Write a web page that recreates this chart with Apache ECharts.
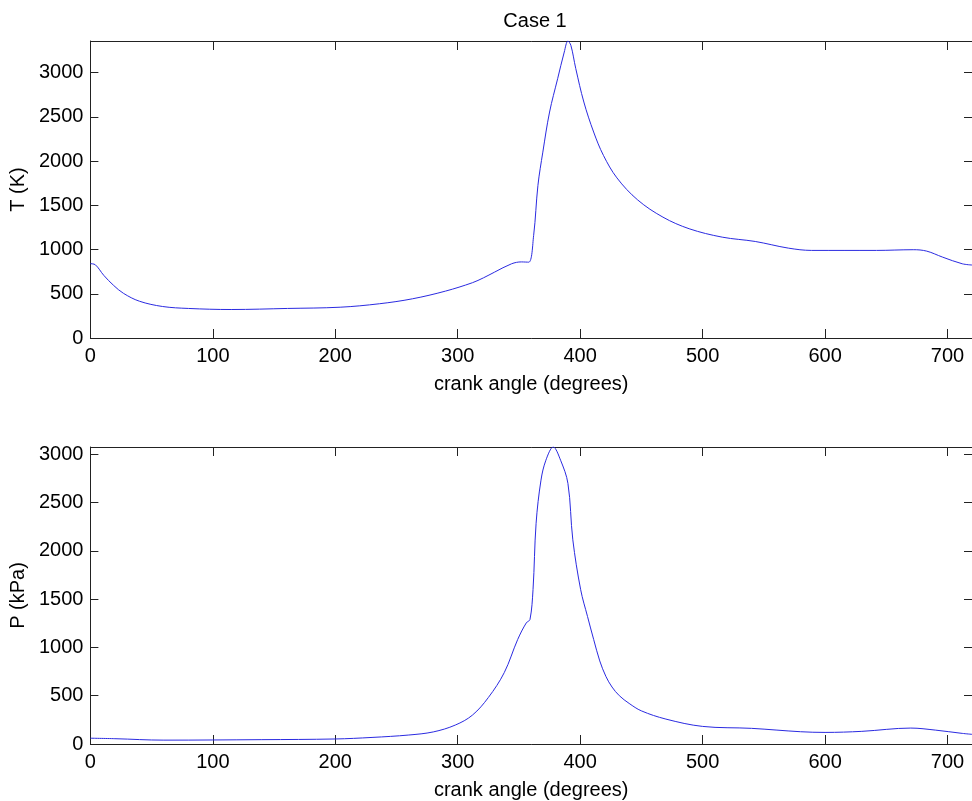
<!DOCTYPE html>
<html>
<head>
<meta charset="utf-8">
<script src="https://cdn.jsdelivr.net/npm/echarts@6/dist/echarts.min.js"></script>
<style>
html,body{margin:0;padding:0;background:#fff;}
#chart{width:972px;height:801px;}
</style>
</head>
<body>
<div id="chart"></div>
<script>
// Temperature vs crank angle
var tAngle = [0, 4, 11, 19, 27, 40, 59, 80, 115, 161, 204, 236, 263, 290, 312, 321, 330, 344, 352, 358, 362, 365.5, 369.5, 375, 381.6, 387, 390, 392.4, 396.4, 403, 411, 419, 430, 447, 467.6, 489, 516, 543, 570, 589, 642, 672, 683, 696, 712, 720];
var tValue = [840, 828, 707, 594, 505, 416, 356, 334, 322, 334, 348, 387, 443, 530, 625, 680, 744, 839, 860, 857, 1160, 1725, 2101, 2554, 2931, 3232, 3357, 3308, 3045, 2667, 2328, 2064, 1810, 1560, 1366, 1235, 1140, 1091, 1016, 990, 990, 998, 982, 914, 839, 825];
// Pressure vs crank angle
var pAngle = [0, 20, 60, 140, 200, 230, 260, 280, 298, 312, 325, 338, 349, 356, 359, 361.5, 364, 368, 372, 378, 384, 390, 394, 400.4, 406, 411, 416, 421, 426, 432, 440, 450, 470, 500, 540, 580, 600, 630, 670, 690, 712, 720];
var pValue = [60, 55, 40, 45, 52, 68, 93, 125, 196, 299, 481, 739, 1083, 1254, 1289, 1600, 2285, 2732, 2938, 3075, 2938, 2698, 2114, 1598, 1320, 1083, 860, 700, 590, 500, 420, 343, 258, 182, 162, 127, 120, 131, 165, 144, 110, 100];
var xTicks = [0, 100, 200, 300, 400, 500, 600, 700];
var titleText = 'Case 1';
var xName = 'crank angle (degrees)';
var tName = 'T (K)';
var pName = 'P (kPa)';

function pairs(a, b) { return a.map(function (v, i) { return [v, b[i]]; }); }

var FONT = 'Liberation Sans, Arial, sans-serif';
var FS = 20;
var AX = '#222';
var LINE = '#2a2ae0';

function mkX(grid, top, labels) {
  return {
    type: 'value', gridIndex: grid, position: top ? 'top' : 'bottom',
    min: 0, max: 720, interval: 100,
    name: labels ? xName : '', nameLocation: 'middle', nameGap: 36,
    nameTextStyle: { color: '#000', fontFamily: FONT, fontSize: FS },
    axisLine: { show: true, onZero: false, lineStyle: { color: AX, width: 1 } },
    axisTick: { show: true, inside: true, length: 9, lineStyle: { color: AX } },
    axisLabel: { show: labels, margin: 8, color: '#000', fontFamily: FONT, fontSize: FS, showMaxLabel: false,
      formatter: function (v) { return xTicks.indexOf(v) >= 0 ? String(v) : ''; } },
    splitLine: { show: false }
  };
}
function mkY(grid, right, labels, name, maxV) {
  return {
    type: 'value', gridIndex: grid, position: right ? 'right' : 'left',
    min: 0, max: maxV, interval: 500,
    name: labels ? name : '', nameLocation: 'middle', nameGap: 56,
    nameTextStyle: { color: '#000', fontFamily: FONT, fontSize: FS },
    axisLine: { show: true, onZero: false, lineStyle: { color: AX, width: 1 } },
    axisTick: { show: true, inside: true, length: 8, lineStyle: { color: AX } },
    axisLabel: { show: labels, margin: 7, color: '#000', fontFamily: FONT, fontSize: FS, showMaxLabel: false,
      formatter: function (v) { return v % 500 === 0 ? String(v) : ''; } },
    splitLine: { show: false }
  };
}

var tMax = Math.max.apply(null, tValue);
var pMax = Math.max.apply(null, pValue);

var chart = echarts.init(document.getElementById('chart'), null, { renderer: 'canvas' });
chart.setOption({
  animation: false,
  backgroundColor: '#fff',
  title: {
    text: titleText, left: 530, top: 6, textAlign: 'center',
    textStyle: { color: '#000', fontFamily: FONT, fontSize: FS, fontWeight: 'normal' }
  },
  grid: [
    { left: 87, top: 41, width: 893, height: 297 },
    { left: 87, top: 447, width: 893, height: 298 }
  ],
  xAxis: [mkX(0, false, true), mkX(0, true, false), mkX(1, false, true), mkX(1, true, false)],
  yAxis: [mkY(0, false, true, tName, tMax), mkY(0, true, false, '', tMax),
          mkY(1, false, true, pName, pMax), mkY(1, true, false, '', pMax)],
  series: [
    { type: 'line', xAxisIndex: 0, yAxisIndex: 0, data: pairs(tAngle, tValue), showSymbol: false, smooth: 0.35,
      lineStyle: { color: LINE, width: 1 }, clip: true },
    { type: 'line', xAxisIndex: 2, yAxisIndex: 2, data: pairs(pAngle, pValue), showSymbol: false, smooth: 0.35,
      lineStyle: { color: LINE, width: 1 }, clip: true }
  ]
});
</script>
</body>
</html>
